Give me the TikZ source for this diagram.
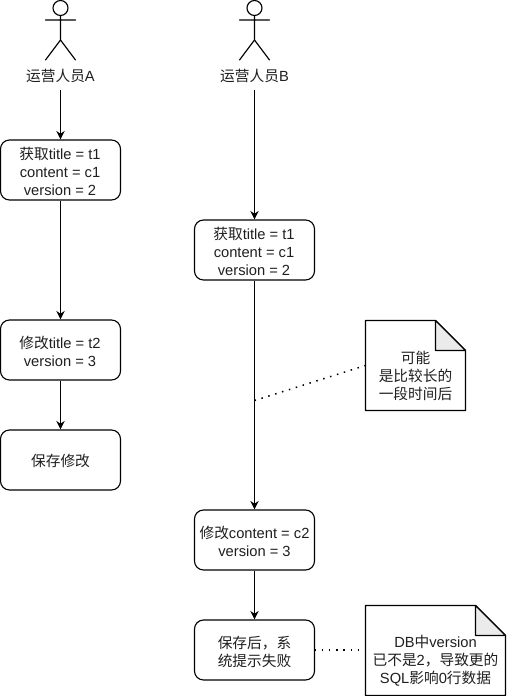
\documentclass[tikz,border=0pt]{standalone}
\usepackage{fontspec}
\setmainfont{Liberation Sans}
\newfontfamily\cjk{Noto Sans CJK SC}
\usetikzlibrary{arrows.meta}
\newcommand{\zh}[1]{{\cjk #1}}
\tikzset{
  x=1pt,y=-1pt,
  every node/.style={font=\fontsize{14.7}{18}\selectfont,text=black!88,align=center,inner sep=0pt},
  line/.style={draw=black,line width=1.15pt},
  flowbox/.style={line,rounded corners=9pt,minimum width=120pt,minimum height=60pt},
  flow/.style={line,-{Stealth[length=8.5pt,width=8.5pt]}},
  dots/.style={line,line width=1.5pt,dash pattern=on 1.5pt off 5.7pt},
  notearea/.style={minimum height=90pt},
  fold/.style={line,fill=black!8,line join=round},
  stick/.style={line,line cap=round},
}
\begin{document}
\begin{tikzpicture}
\useasboundingbox (0,0) rectangle (506,696);
\fill[white] (0,0) rectangle (506,696);
% actor A
\draw[stick] (60.5,8) circle[radius=7.5];
\draw[stick] (60.5,15.5) -- (60.5,40) (45.5,20) -- (75.5,20) (45.5,60) -- (60.5,40) -- (75.5,60);
\node (la) at (60.5,76) {\zh{运营人员}A};
% actor B
\draw[stick] (254.5,8) circle[radius=7.5];
\draw[stick] (254.5,15.5) -- (254.5,40) (239.5,20) -- (269.5,20) (239.5,60) -- (254.5,40) -- (269.5,60);
\node (lb) at (254.5,76) {\zh{运营人员}B};
% boxes
\node[flowbox] (a1) at (60.5,170) {};
\node[flowbox] (a2) at (60.5,350) {};
\node[flowbox] (a3) at (60.5,460) {};
\node[flowbox] (b1) at (254.5,250) {};
\node[flowbox] (b2) at (254.5,540) {};
\node[flowbox] (b3) at (254.5,650) {};
\node (ta1) at (60,171) {\zh{获取}title = t1\\content = c1\\version = 2};
\node (ta2) at (60,351) {\zh{修改}title = t2\\version = 3};
\node (ta3) at (60.5,461) {\zh{保存修改}};
\node (tb1) at (254,251) {\zh{获取}title = t1\\content = c1\\version = 2};
\node (tb2) at (254.5,541) {\zh{修改}content = c2\\version = 3};
\node (tb3) at (254.5,652) {\zh{保存后，系}\\\zh{统提示失败}};
% notes
\draw[line,line join=round] (365.5,320.5) -- (435.5,320.5) -- (465.5,350.5) -- (465.5,410.5) -- (365.5,410.5) -- cycle;
\draw[fold] (435.5,320.5) -- (435.5,350.5) -- (465.5,350.5) -- cycle;
\node[minimum width=100pt,notearea] (n1) at (415.5,365.5) {};
\node (tn1) at (415.5,375.5) {\zh{可能}\\\zh{是比较长的}\\\zh{一段时间后}};
\draw[line,line join=round] (365.5,605.5) -- (475.5,605.5) -- (505.5,635.5) -- (505.5,695.5) -- (365.5,695.5) -- cycle;
\draw[fold] (475.5,605.5) -- (475.5,635.5) -- (505.5,635.5) -- cycle;
\node[minimum width=140pt,notearea] (n2) at (435.5,650.5) {};
\node (tn2) at (435.5,661) {DB\zh{中}version\\\zh{已不是}2\zh{，导致更的}\\SQL\zh{影响}0\zh{行数据}};
% connectors
\coordinate (la0) at (60.5,90);
\coordinate (lb0) at (254.5,90);
\coordinate (mid) at (254.5,400.5);
\coordinate (n1in) at (365.5,365.5);
\coordinate (b3out) at (314.5,650);
\coordinate (n2in) at (365.5,650);
\draw[flow] (la0) -- (a1.north);
\draw[flow] (a1) -- (a2);
\draw[flow] (a2) -- (a3);
\draw[flow] (lb0) -- (b1.north);
\draw[flow] (b1) -- (b2);
\draw[flow] (b2) -- (b3);
\draw[dots] (mid) -- (n1in);
\draw[dots] (b3out) -- (n2in);
\end{tikzpicture}
\end{document}
